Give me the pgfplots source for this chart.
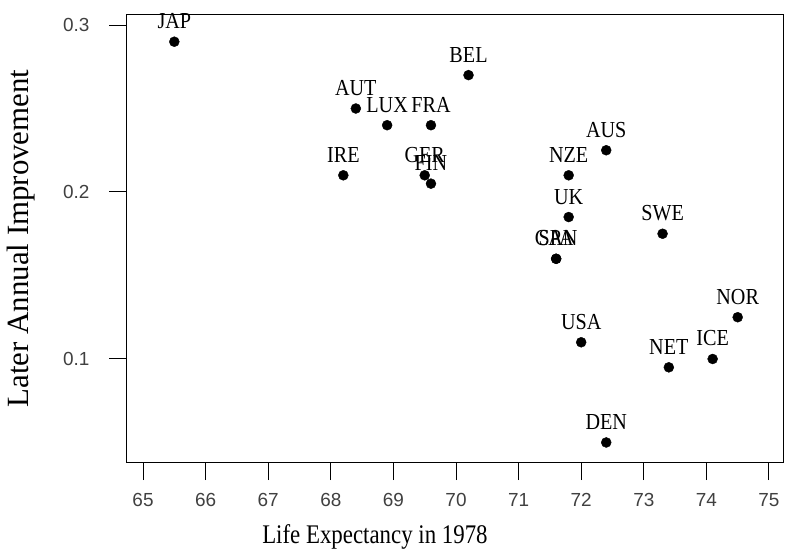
\documentclass[border=0pt]{standalone}
\usepackage{pgfplots}
\pgfplotsset{compat=1.18}
\usepackage{fontspec}
\setmainfont{Liberation Serif}
\newfontfamily\tickfont{Liberation Sans}
\usetikzlibrary{calc}
\begin{document}
\begin{tikzpicture}
\begin{axis}[
  scale only axis, width=656bp, height=447bp,
  xmin=64.744, xmax=75.224, ymin=0.0383, ymax=0.306,
  xtick={65,66,67,68,69,70,71,72,73,74,75}, ytick={0.1,0.2,0.3},
  yticklabel style={/pgf/number format/fixed, /pgf/number format/precision=1, xshift=-16bp},
  xticklabel style={yshift=-10bp},
  tick align=outside, major tick length=18bp, tick pos=left,
  /pgf/number format/assume math mode=true,
  ticklabel style={font=\tickfont\fontsize{19}{19}\selectfont, text=black!75},
  every tick/.style={black, line width=1bp},
  axis line style={line width=1bp},
  xlabel={\scalebox{0.85}[1]{Life Expectancy in 1978}},
  ylabel={Later Annual Improvement},
  xlabel style={font=\fontsize{27}{27}\selectfont, at={(axis description cs:0.378,0)}, anchor=north, yshift=-59bp},
  ylabel style={font=\fontsize{31}{31}\selectfont, at={(axis description cs:-0.1616,0.5)}, anchor=center},
  clip=false,
]
\addplot[only marks, mark=*, mark size=5bp, black,
  nodes near coords={\scalebox{0.88}[1]{\pgfplotspointmeta}}, point meta=explicit symbolic,
  nodes near coords style={font=\fontsize{23}{23}\selectfont, anchor=base, yshift=13bp, inner sep=0pt}]
  table[meta=label]{
x y label
65.5 0.29 JAP
70.2 0.27 BEL
68.4 0.25 AUT
68.9 0.24 LUX
69.6 0.24 FRA
68.2 0.21 IRE
69.5 0.21 GER
69.6 0.205 FIN
72.4 0.225 AUS
71.8 0.21 NZE
71.8 0.185 UK
73.3 0.175 SWE
71.6 0.16 SPA
71.6 0.16 CAN
72.0 0.11 USA
74.5 0.125 NOR
74.1 0.10 ICE
73.4 0.095 NET
72.4 0.05 DEN
};
\end{axis}
\pgfresetboundingbox
\path ($(current axis.south west)+(-127bp,-88bp)$) rectangle ($(current axis.north east)+(2bp,15bp)$);
\end{tikzpicture}
\end{document}
